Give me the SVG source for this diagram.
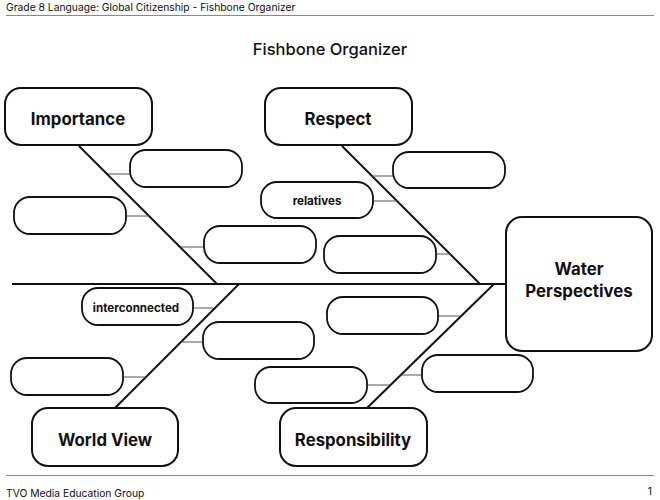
<svg xmlns="http://www.w3.org/2000/svg" width="660" height="500" viewBox="0 0 660 500">
<style>
  .hdr { font-family: "Inter", "Liberation Sans", sans-serif; font-size: 10.3px; fill: #111; }
  .title { font-family: "Inter", "Liberation Sans", sans-serif; font-size: 16.5px; font-weight: 500; fill: #111; text-anchor: middle; }
  .big { fill: #fff; stroke: #111; stroke-width: 2; }
  .small { fill: #fff; stroke: #111; stroke-width: 1.8; }
  .lbl { font-family: "Inter", "Liberation Sans", sans-serif; font-size: 16.8px; font-weight: 700; fill: #111; text-anchor: middle; }
  .slbl { font-family: "Inter", "Liberation Sans", sans-serif; font-size: 11.6px; font-weight: 700; fill: #111; text-anchor: middle; }
  .bone { stroke: #111; stroke-width: 2; fill: none; }
  .tick { stroke: #555; stroke-width: 1; fill: none; }
  .rule { stroke: #888; stroke-width: 1; }
</style>
<rect width="660" height="500" fill="#fff"/>
<g id="header">
  <text class="hdr" x="6" y="11">Grade 8 Language: Global Citizenship - Fishbone Organizer</text>
  <line class="rule" x1="6" y1="15.5" x2="654" y2="15.5"/>
</g>
<g id="title"><text class="title" x="330" y="55">Fishbone Organizer</text></g>
<g id="connectors">
  <line class="bone" x1="12" y1="284" x2="506" y2="284"/>
  <line class="bone" x1="79" y1="146" x2="217" y2="284"/>
  <line class="bone" x1="342" y1="146" x2="480" y2="284"/>
  <line class="bone" x1="115" y1="408" x2="239" y2="284"/>
  <line class="bone" x1="367" y1="408" x2="494" y2="284"/>
  <line class="tick" x1="108" y1="174" x2="130" y2="174"/>
  <line class="tick" x1="126" y1="216" x2="149" y2="216"/>
  <line class="tick" x1="181" y1="247" x2="204" y2="247"/>
  <line class="tick" x1="372" y1="176" x2="393" y2="176"/>
  <line class="tick" x1="373" y1="201" x2="397" y2="201"/>
  <line class="tick" x1="436" y1="254" x2="451" y2="254"/>
  <line class="tick" x1="193" y1="308" x2="213" y2="308"/>
  <line class="tick" x1="181" y1="342" x2="203" y2="342"/>
  <line class="tick" x1="123" y1="377" x2="146" y2="377"/>
  <line class="tick" x1="438" y1="316" x2="461" y2="316"/>
  <line class="tick" x1="401" y1="375" x2="422" y2="375"/>
  <line class="tick" x1="367" y1="385" x2="390" y2="385"/>
</g>
<g id="water"><rect class="big" x="506" y="217" width="146" height="134" rx="16"/><text class="lbl" x="579" y="275">Water</text><text class="lbl" x="579" y="297">Perspectives</text></g>
<g id="importance"><rect class="big" x="5" y="88" width="147" height="57" rx="16"/><text class="lbl" x="78" y="125">Importance</text></g>
<g id="respect"><rect class="big" x="265" y="88" width="147" height="57" rx="16"/><text class="lbl" x="338" y="125">Respect</text></g>
<g id="worldview"><rect class="big" x="32" y="408" width="146" height="58" rx="16"/><text class="lbl" x="105" y="446">World View</text></g>
<g id="responsibility"><rect class="big" x="280" y="408" width="147" height="58" rx="16"/><text class="lbl" x="353" y="446">Responsibility</text></g>
<g id="imp1"><rect class="small" x="130" y="150" width="112" height="37" rx="16"/></g>
<g id="imp2"><rect class="small" x="14" y="197" width="112" height="37" rx="16"/></g>
<g id="imp3"><rect class="small" x="204" y="226" width="112" height="37" rx="16"/></g>
<g id="res1"><rect class="small" x="393" y="152" width="112" height="36" rx="16"/></g>
<g id="res2"><rect class="small" x="261" y="182" width="112" height="36" rx="16"/><text class="slbl" x="317" y="205">relatives</text></g>
<g id="res3"><rect class="small" x="324" y="236" width="112" height="37" rx="16"/></g>
<g id="wv1"><rect class="small" x="82" y="288" width="111" height="37" rx="16"/><text class="slbl" x="136" y="312">interconnected</text></g>
<g id="wv2"><rect class="small" x="203" y="322" width="111" height="37" rx="16"/></g>
<g id="wv3"><rect class="small" x="11" y="358" width="112" height="37" rx="16"/></g>
<g id="rsp1"><rect class="small" x="327" y="297" width="111" height="37" rx="16"/></g>
<g id="rsp2"><rect class="small" x="422" y="355" width="111" height="37" rx="16"/></g>
<g id="rsp3"><rect class="small" x="255" y="367" width="112" height="36" rx="16"/></g>
<g id="footer">
  <line class="rule" x1="6" y1="475.5" x2="654" y2="475.5"/>
  <text class="hdr" x="6" y="497">TVO Media Education Group</text>
  <text class="hdr" x="652" y="495" text-anchor="end">1</text>
</g>
</svg>
